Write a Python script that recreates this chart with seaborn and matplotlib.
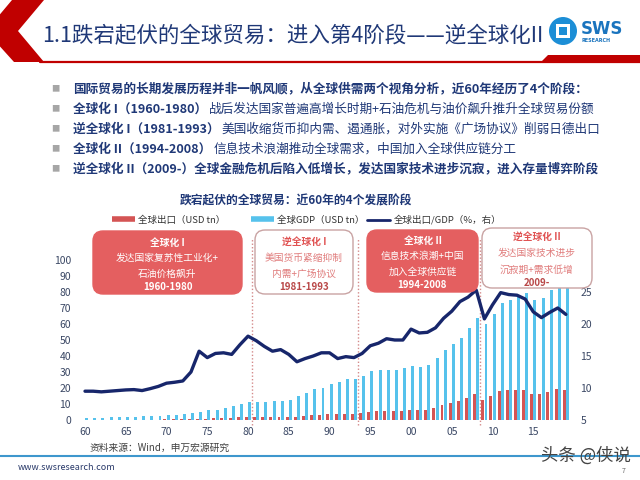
import numpy as np
import pandas as pd
import matplotlib
matplotlib.use("Agg")
import matplotlib.pyplot as plt
import seaborn as sns
from matplotlib.patches import Polygon, FancyBboxPatch, Circle, Rectangle
from matplotlib.lines import Line2D
from matplotlib.transforms import Affine2D

# ---- data ----
years = list(range(1960, 2020))
exports = [0.13, 0.13, 0.14, 0.16, 0.17, 0.19, 0.20, 0.21, 0.24, 0.27,
           0.32, 0.35, 0.42, 0.58, 0.84, 0.88, 0.99, 1.13, 1.30, 1.66,
           2.03, 2.00, 1.86, 1.80, 1.90, 1.95, 2.10, 2.50, 2.85, 3.10,
           3.45, 3.50, 3.75, 3.80, 4.30, 5.10, 5.40, 5.60, 5.50, 5.70,
           6.40, 6.20, 6.50, 7.60, 9.20, 10.5, 12.1, 14.0, 16.1, 12.5,
           15.3, 18.3, 18.5, 18.9, 19.0, 16.5, 16.0, 17.7, 19.5, 19.0]
gdp = [1.40, 1.45, 1.55, 1.65, 1.80, 2.00, 2.10, 2.30, 2.40, 2.70,
       3.00, 3.20, 3.80, 4.60, 5.30, 6.00, 6.40, 7.20, 8.50, 9.90,
       11.2, 11.5, 11.3, 11.6, 12.0, 12.7, 15.0, 17.0, 19.2, 20.0,
       22.6, 23.9, 25.4, 25.8, 27.6, 30.8, 31.4, 31.4, 31.3, 32.5,
       33.6, 33.4, 34.6, 38.9, 43.8, 47.4, 51.4, 57.8, 63.5, 60.2,
       66.0, 73.3, 75.0, 77.2, 79.3, 75.0, 76.2, 81.3, 86.1, 87.6]
ratio = [9.5, 9.5, 9.4, 9.5, 9.6, 9.7, 9.75, 9.6, 9.9, 10.25,
         10.75, 10.9, 11.1, 12.5, 15.75, 14.75, 15.4, 15.5, 15.25, 16.75,
         18.1, 17.4, 16.5, 15.75, 16.0, 15.25, 14.1, 14.6, 15.0, 15.5,
         15.5, 14.6, 14.9, 14.75, 15.4, 16.6, 17.0, 17.7, 17.5, 17.5,
         19.2, 18.6, 18.7, 19.4, 20.9, 22.0, 23.5, 24.2, 25.3, 20.8,
         23.0, 24.9, 24.6, 24.5, 23.9, 21.9, 21.0, 21.8, 22.5, 21.5]

series_names = ['全球出口（USD tn）', '全球GDP（USD tn）', '全球出口/GDP（%，右）']
tick_years = [1960, 1965, 1970, 1975, 1980, 1985, 1990, 1995, 2000, 2005, 2010, 2015]
tick_labels = ['60', '65', '70', '75', '80', '85', '90', '95', '00', '05', '10', '15']
stage_breaks = [1980.5, 1993.5, 2008.5]

title = '1.1跌宕起伏的全球贸易：进入第4阶段——逆全球化II'
chart_title = '跌宕起伏的全球贸易：近60年的4个发展阶段'
bullets = [
    [('国际贸易的长期发展历程并非一帆风顺，从全球供需两个视角分析，近60年经历了4个阶段：', True)],
    [('全球化 I（1960-1980）', True), ('战后发达国家普遍高增长时期+石油危机与油价飙升推升全球贸易份额', False)],
    [('逆全球化 I（1981-1993）', True), ('美国收缩货币抑内需、遏通胀，对外实施《广场协议》削弱日德出口', False)],
    [('全球化 II（1994-2008）', True), ('信息技术浪潮推动全球需求，中国加入全球供应链分工', False)],
    [('逆全球化 II（2009-）全球金融危机后陷入低增长，发达国家技术进步沉寂，进入存量博弈阶段', True)],
]
stage_boxes = [
    ('全球化 I', ['发达国家复苏性工业化+', '石油价格飙升'], '1960-1980', True),
    ('逆全球化 I', ['美国货币紧缩抑制', '内需+广场协议'], '1981-1993', False),
    ('全球化 II', ['信息技术浪潮+中国', '加入全球供应链'], '1994-2008', True),
    ('逆全球化 II', ['发达国家技术进步', '沉寂期+需求低增'], '2009-', False),
]

RED = '#D45454'
BLUE = '#56C2EC'
NAVY = '#17266B'
BOXRED = '#E45F60'
TXT = '#1F3877'
TICK = '#3A4764'

sns.set_style("white")
plt.rcParams['font.family'] = ['Noto Sans CJK SC', 'DejaVu Sans']
plt.rcParams['axes.unicode_minus'] = False

W, H = 640, 480
fig = plt.figure(figsize=(6.4, 4.8), dpi=100)
fig.patch.set_facecolor('white')
px = Affine2D().scale(1 / W, 1 / H) + fig.transFigure  # pixel coords, origin bottom-left


def ftext(x, y, s, **kw):
    # y measured from the top of the slide
    return fig.text(x / W, 1 - y / H, s, **kw)


# ---- header ----
fig.add_artist(Polygon([(12, 480), (44, 480), (18, 449), (44, 418), (14, 418), (-14, 449)],
                       closed=True, transform=px, color='#C00000', lw=0))
fig.add_artist(Line2D([40, 640], [418.5, 418.5], transform=px, color='#C00000', lw=1.6))
fig.add_artist(Polygon([(548, 425), (640, 425), (640, 417), (540, 417)],
                       closed=True, transform=px, color='#C00000', lw=0))
ftext(42, 36, title, fontsize=15.5, color=TXT, va='center')

# logo
fig.add_artist(Circle((563, 449), 14, transform=px, color='#1C8ED6', lw=0))
fig.add_artist(Rectangle((556, 442), 14, 14, transform=px, color='white', lw=0))
fig.add_artist(Rectangle((559, 445), 8, 8, transform=px, color='#1C8ED6', lw=0))
ftext(581, 29, 'SWS', fontsize=12, fontweight='bold', color='#1A74BE', va='center',
      family='DejaVu Sans')
ftext(582, 40, 'RESEARCH', fontsize=3.5, fontweight='bold', color='#1A74BE', va='center',
      family='DejaVu Sans')

# ---- bullets ----
renderer = fig.canvas.get_renderer()
for i, segs in enumerate(bullets):
    y = 89 + i * 20
    ftext(51, y, '■', fontsize=6, color='#A6A6A6', va='center')
    x = 73
    for s, bold in segs:
        t = ftext(x, y, s, fontsize=9.1, color=TXT, va='center',
                  fontweight='bold' if bold else 'normal')
        x = t.get_window_extent(renderer).x1 + 2

# ---- chart ----
ftext(296, 201, chart_title, fontsize=8.5, fontweight='bold', color=TXT,
      ha='center', va='center')

ax = fig.add_axes([78 / W, 60 / H, 494 / W, 160 / H])
df = pd.DataFrame({'year': years, series_names[0]: exports, series_names[1]: gdp})
df = df.melt(id_vars='year', var_name='series', value_name='value')
sns.barplot(data=df, x='year', y='value', hue='series', palette=[RED, BLUE],
            width=0.8, gap=0.1, saturation=1, legend=False,
            edgecolor='none', linewidth=0, ax=ax)
ax.set_ylim(0, 100)
ax.set_yticks(range(0, 101, 10))
ax.set_xticks([y - years[0] for y in tick_years])
ax.set_xticklabels(tick_labels)
ax.set_xlim(-0.86, 59.75)
ax.set_xlabel('')
ax.set_ylabel('')

ax2 = ax.twinx()
sns.lineplot(x=[y - years[0] for y in years], y=ratio, color=NAVY, lw=2.4, ax=ax2)
ax2.set_ylim(5, 30)
ax2.set_yticks(range(5, 31, 5))
ax2.set_ylabel('')
ax2.set_xlim(-0.86, 59.75)

for a in (ax, ax2):
    for sp in a.spines.values():
        sp.set_visible(False)
ax.tick_params(axis='both', length=0, labelsize=7.5, labelcolor=TICK)
ax.tick_params(axis='y', pad=5)
ax.tick_params(axis='x', pad=5)
ax2.tick_params(axis='y', length=0, labelsize=7.5, labelcolor=TICK, pad=6)

for b in stage_breaks:
    ax.axvline(b - years[0], ymin=-0.03, ymax=1.14, color='#D48A8A',
               ls=(0, (1, 1.5)), lw=1, clip_on=False)

# legend
leg_x = [112, 251, 367]
handles = [Line2D([], [], color=RED, lw=4, solid_capstyle='butt'),
           Line2D([], [], color=BLUE, lw=4, solid_capstyle='butt'),
           Line2D([], [], color=NAVY, lw=2)]
for hx, h, name in zip(leg_x, handles, series_names):
    fig.legend(handles=[h], labels=[name], loc='center left',
               bbox_to_anchor=(hx / W, 1 - 220 / H), frameon=False,
               fontsize=6.8, handlelength=2.4, handletextpad=0.4,
               borderpad=0, borderaxespad=0, labelcolor='#333333')

# stage boxes
box_geo = [(93, 231, 242, 294, [243, 258, 274, 287]),
           (255, 230, 353, 294, [242, 258, 274, 287]),
           (367, 230, 478, 292, [241, 256, 272, 285]),
           (482, 228, 592, 288, [237, 253, 270, 283])]
for (head, body, span, filled), (x0, y0, x1, y1, ty) in zip(stage_boxes, box_geo):
    if filled:
        fc, ec = BOXRED, BOXRED
        c_head, c_body, c_span = 'white', 'white', 'white'
    else:
        fc, ec = 'white', '#C9A3A3'
        c_head, c_body, c_span = '#E05252', '#E07C7C', '#B94848'
    fig.add_artist(FancyBboxPatch((x0, H - y1), x1 - x0, y1 - y0,
                                  boxstyle='round,pad=0,rounding_size=10',
                                  transform=px, fc=fc, ec=ec, lw=1, zorder=3))
    cx = (x0 + x1) / 2
    ftext(cx, ty[0], head, fontsize=7, fontweight='bold', color=c_head,
          ha='center', va='center', zorder=4)
    for yy, line in zip(ty[1:3], body):
        ftext(cx, yy, line, fontsize=7, color=c_body, ha='center', va='center', zorder=4)
    ftext(cx, ty[3], span, fontsize=7, fontweight='bold', color=c_span,
          ha='center', va='center', zorder=4)

# ---- footer ----
ftext(90, 448, '资料来源：Wind，申万宏源研究', fontsize=7, color='#404040', va='center')
fig.add_artist(Line2D([0, 640], [24, 24], transform=px, color='#3E97CD', lw=1.5))
ftext(18, 467, 'www.swsresearch.com', fontsize=6.5, color='#2A3A6A', va='center')
ftext(541, 456, '头条 @侠说', fontsize=12.5, color='#444444', va='center')
ftext(622, 471, '7', fontsize=5, color='#666666', va='center')

fig.savefig('out.png', dpi=100)
